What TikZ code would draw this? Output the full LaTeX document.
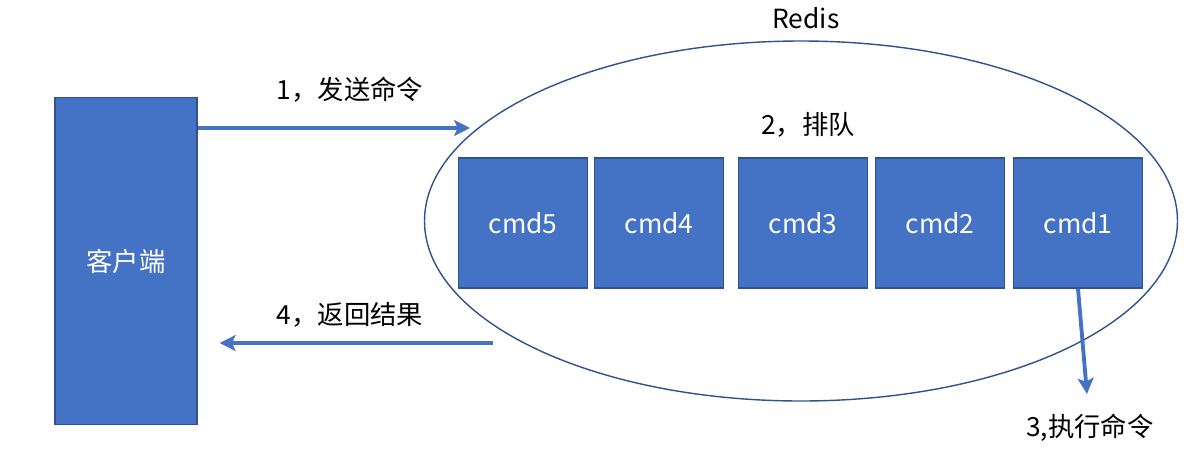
\documentclass[tikz,border=0pt]{standalone}
\usepackage{fontspec}
\setmainfont{Noto Sans CJK SC}
\usetikzlibrary{arrows.meta}
\usetikzlibrary{shapes.geometric}
\usepackage{xcolor}
\definecolor{myblue}{HTML}{4472C4}
\definecolor{mydarkblue}{HTML}{2F528F}
\tikzset{
  x=0.02cm, y=-0.02cm,
  box/.style={draw=mydarkblue,fill=myblue,text=white,thick,inner sep=0,font=\fontsize{15}{18}\selectfont},
  cmd/.style={box,minimum width=129*0.02cm,minimum height=130*0.02cm},
  label/.style={font=\fontsize{15}{18}\selectfont},
  connect arrow/.style={-{Stealth[length=9,width=9,inset=2]},myblue,line width=2.2pt}
}
\begin{document}
\begin{tikzpicture}
  \useasboundingbox (0,0) rectangle (1204,450);
  \node[box,minimum width=142*0.02cm,minimum height=327*0.02cm] (client) at (126,261) {客户端};
  \node[draw=mydarkblue,thick,ellipse,minimum width=753*0.02cm,minimum height=360*0.02cm] (redis) at (801,221) {};
  \node[label] at (806,18) {Redis};
  \node[cmd] (cmd5) at (523,223) {cmd5};
  \node[cmd] (cmd4) at (659,223) {cmd4};
  \node[cmd] (cmd3) at (803,223) {cmd3};
  \node[cmd] (cmd2) at (940,223) {cmd2};
  \node[cmd] (cmd1) at (1078,223) {cmd1};
  \coordinate (send) at (470,128);
  \coordinate (back) at (493,343);
  \coordinate (exec) at (1087,394);

  \draw[connect arrow] (client.east |- send) -- (send);
  \node[label] at (350,90) {1，发送命令};
  \node[label] at (808,125) {2，排队};
  \draw[connect arrow] (back) -- ([xshift=22*0.02cm]client.east |- back);
  \node[label] at (350,315) {4，返回结果};
  \draw[connect arrow] (cmd1.south) -- (exec);
  \node[label] at (1090,428) {3,执行命令};
\end{tikzpicture}
\end{document}
